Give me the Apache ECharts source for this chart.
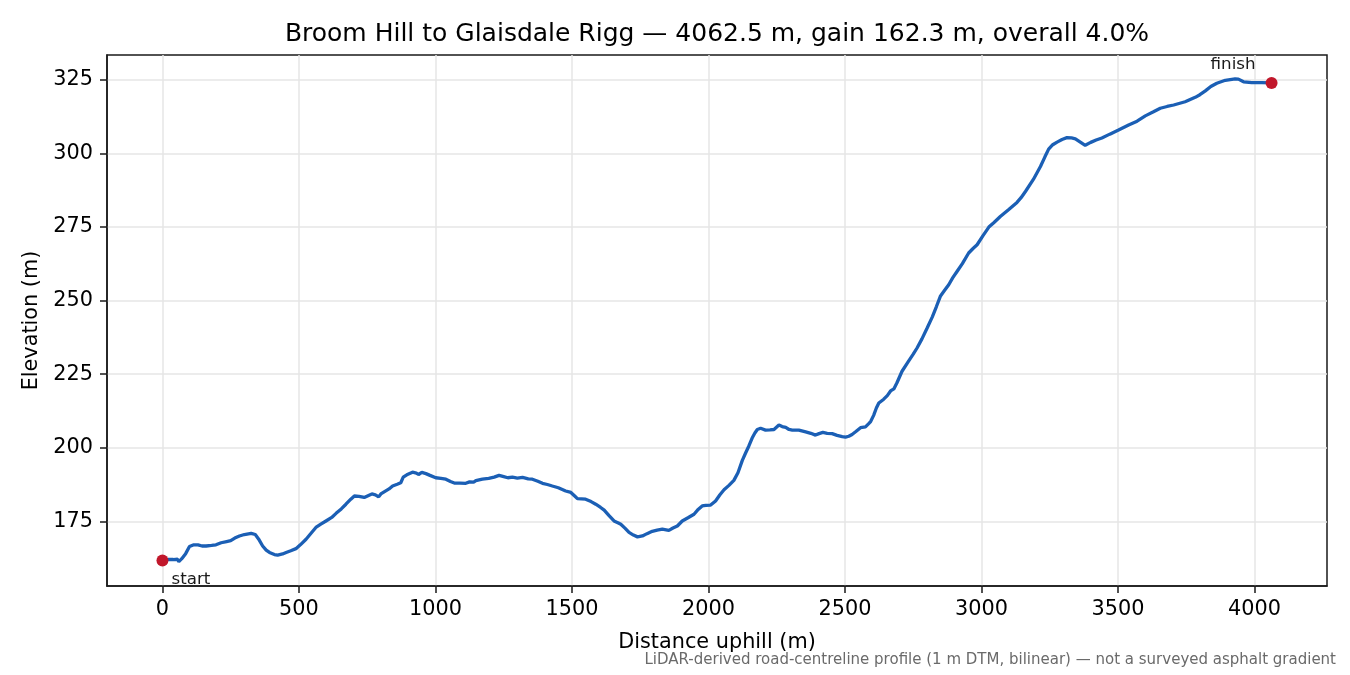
<!DOCTYPE html>
<html>
<head>
<meta charset="utf-8">
<title>Broom Hill to Glaisdale Rigg - elevation profile</title>
<script src="https://cdn.jsdelivr.net/npm/echarts@6.0.0/dist/echarts.min.js"></script>
</head>
<body style="margin:0; background:#fff">
<div id="container" style="width:1350px; height:675px"></div>
<script>
// distance along the road (m) and elevation (m)
var distM = [0, 20, 40, 55, 60, 70, 85, 99, 115, 130, 145, 160, 180, 196, 215, 235, 250, 265, 282, 300,
    325, 340, 352, 367, 380, 392, 410, 422, 440, 453, 470, 489, 505, 526, 545, 562, 580, 599, 620, 636,
    655, 672, 690, 703, 720, 739, 755, 767, 780, 792, 800, 812, 830, 843, 860, 873, 878, 882, 895, 916,
    930, 938, 950, 965, 980, 1001, 1020, 1038, 1055, 1069, 1090, 1111, 1125, 1140, 1148, 1172, 1195, 1215, 1233, 1250,
    1265, 1282, 1300, 1319, 1340, 1355, 1375, 1392, 1410, 1428, 1450, 1477, 1496, 1510, 1520, 1535, 1550, 1570, 1587, 1605,
    1618, 1635, 1654, 1668, 1679, 1695, 1709, 1725, 1740, 1758, 1775, 1794, 1812, 1831, 1845, 1855, 1870, 1886, 1904, 1925,
    1947, 1960, 1977, 1990, 2008, 2026, 2042, 2057, 2075, 2093, 2108, 2124, 2136, 2148, 2160, 2170, 2179, 2191, 2209, 2225,
    2240, 2258, 2270, 2283, 2295, 2307, 2331, 2356, 2375, 2392, 2405, 2419, 2435, 2453, 2471, 2490, 2502, 2514, 2526, 2540,
    2557, 2575, 2587, 2594, 2605, 2615, 2624, 2642, 2655, 2667, 2679, 2690, 2709, 2730, 2750, 2764, 2782, 2801, 2820, 2835,
    2850, 2865, 2880, 2895, 2911, 2930, 2953, 2970, 2984, 3005, 3027, 3045, 3069, 3100, 3130, 3145, 3161, 3190, 3216, 3232,
    3246, 3261, 3277, 3295, 3313, 3330, 3344, 3362, 3380, 3400, 3420, 3441, 3470, 3502, 3539, 3570, 3600, 3630, 3655, 3680,
    3704, 3746, 3783, 3800, 3820, 3840, 3862, 3893, 3929, 3941, 3960, 3990, 4027, 4062.5];
var elevM = [161.7, 162.0, 162.0, 162.1, 161.3, 162.2, 164.0, 166.4, 167.0, 167.0, 166.6, 166.6, 166.8, 167.0, 167.7, 168.1, 168.4, 169.3, 170.0, 170.5,
    170.9, 170.5, 169.0, 166.6, 165.2, 164.4, 163.7, 163.5, 163.9, 164.4, 165.0, 165.7, 167.0, 168.9, 171.0, 172.9, 174.0, 175.1, 176.3, 177.7,
    179.2, 180.8, 182.5, 183.6, 183.5, 183.1, 183.8, 184.3, 184.0, 183.3, 184.3, 185.0, 186.0, 187.0, 187.6, 188.1, 188.3, 190.0, 190.8, 191.7,
    191.4, 190.9, 191.6, 191.2, 190.6, 189.8, 189.6, 189.3, 188.5, 188.0, 188.0, 187.9, 188.4, 188.3, 188.8, 189.3, 189.6, 190.0, 190.6, 190.2,
    189.8, 190.0, 189.7, 189.9, 189.4, 189.3, 188.6, 187.9, 187.5, 187.0, 186.4, 185.3, 184.8, 183.6, 182.7, 182.6, 182.5, 181.7, 180.8, 179.7,
    178.8, 177.0, 175.1, 174.5, 174.0, 172.6, 171.2, 170.3, 169.7, 170.0, 170.8, 171.6, 172.0, 172.3, 172.1, 171.9, 172.7, 173.4, 175.1, 176.2,
    177.4, 178.8, 180.2, 180.4, 180.5, 181.9, 184.0, 185.7, 187.2, 188.9, 191.5, 195.7, 198.2, 200.6, 203.3, 205.0, 206.2, 206.6, 206.0, 206.1,
    206.2, 207.7, 207.2, 206.9, 206.2, 206.0, 206.0, 205.4, 204.9, 204.3, 204.8, 205.2, 204.9, 204.8, 204.2, 203.8, 203.6, 203.9, 204.5, 205.5,
    206.8, 207.1, 208.2, 208.9, 211.0, 213.5, 215.2, 216.5, 217.7, 219.3, 220.0, 222.0, 226.0, 229.0, 231.8, 233.9, 237.0, 240.7, 244.5, 248.0,
    251.6, 253.5, 255.4, 257.8, 260.0, 262.6, 266.2, 267.8, 269.0, 272.0, 275.0, 276.5, 278.6, 281.0, 283.4, 285.0, 287.1, 291.2, 295.6, 298.8,
    301.5, 303.0, 303.9, 304.8, 305.4, 305.3, 305.0, 303.9, 302.8, 303.8, 304.6, 305.3, 306.6, 308.0, 309.7, 311.0, 312.8, 314.2, 315.4, 316.0,
    316.5, 317.6, 319.1, 320.0, 321.3, 322.8, 323.9, 324.9, 325.4, 325.3, 324.4, 324.1, 324.1, 324.0];

var xTicks = [0, 500, 1000, 1500, 2000, 2500, 3000, 3500, 4000];
var yTicks = [175, 200, 225, 250, 275, 300, 325];
var endNames = ['start', 'finish'];

var profile = [];
for (var i = 0; i < distM.length; i++) {
    profile.push([distM[i], elevM[i]]);
}
var last = distM.length - 1;
var ends = [
    {name: endNames[0], value: [distM[0], elevM[0]],
        label: {position: [15, 25], align: 'left', verticalAlign: 'middle'}},
    {name: endNames[1], value: [distM[last], elevM[last]],
        label: {position: [-10, -12], align: 'right', verticalAlign: 'middle'}}
];

var font = 'DejaVu Sans';
var plain = function (v) { return String(v); };
var myChart = echarts.init(document.getElementById('container'));

var option = {
    backgroundColor: '#ffffff',
    animation: false,
    textStyle: {fontFamily: font},
    grid: {
        left: 107, right: 23, top: 55, bottom: 89,
        show: true, borderColor: '#1a1a1a', borderWidth: 1.5, backgroundColor: 'transparent'
    },
    graphic: [
        {type: 'text', x: 717, y: 34, style: {
            text: 'Broom Hill to Glaisdale Rigg \u2014 4062.5 m, gain 162.3 m, overall 4.0%',
            font: '25px "DejaVu Sans"', fill: '#000', textAlign: 'center', textVerticalAlign: 'middle'}},
        {type: 'text', x: 1336, y: 660, style: {
            text: 'LiDAR-derived road-centreline profile (1 m DTM, bilinear) \u2014 not a surveyed asphalt gradient',
            font: '15px "DejaVu Sans"', fill: '#6a6a6a', textAlign: 'right', textVerticalAlign: 'middle'}}
    ],
    xAxis: {
        type: 'value',
        min: -203.1,
        max: 4265.6,
        name: 'Distance uphill (m)',
        nameLocation: 'middle',
        nameGap: 46,
        nameTextStyle: {fontSize: 20.8, color: '#000', fontFamily: font},
        axisLine: {show: true, onZero: false, lineStyle: {color: '#1a1a1a', width: 1.5}},
        axisTick: {show: true, length: 7, customValues: xTicks, lineStyle: {color: '#1a1a1a', width: 1.5}},
        axisLabel: {customValues: xTicks, formatter: plain, fontSize: 20.8, color: '#000', margin: 13, fontFamily: font},
        splitLine: {show: true, lineStyle: {color: '#e6e6e6', width: 1.5}}
    },
    yAxis: {
        type: 'value',
        min: 153.0,
        max: 333.5,
        name: 'Elevation (m)',
        nameLocation: 'middle',
        nameGap: 59,
        nameTextStyle: {fontSize: 20.8, color: '#000', fontFamily: font},
        axisLine: {show: true, onZero: false, lineStyle: {color: '#1a1a1a', width: 1.5}},
        axisTick: {show: true, length: 7, customValues: yTicks, lineStyle: {color: '#1a1a1a', width: 1.5}},
        axisLabel: {customValues: yTicks, formatter: plain, fontSize: 20.8, color: '#000', margin: 14, fontFamily: font},
        splitLine: {show: true, lineStyle: {color: '#e6e6e6', width: 1.5}}
    },
    series: [
        {
            name: 'profile',
            type: 'line',
            data: profile,
            showSymbol: false,
            smooth: false,
            lineStyle: {color: '#1b5fb5', width: 3.3},
            z: 2
        },
        {
            name: 'ends',
            type: 'scatter',
            data: ends,
            symbolSize: 12,
            itemStyle: {color: '#c1172b', opacity: 1},
            label: {show: true, formatter: '{b}', fontSize: 16.7, color: '#1a1a1a', fontFamily: font},
            z: 3
        }
    ]
};

myChart.setOption(option);
</script>
</body>
</html>
